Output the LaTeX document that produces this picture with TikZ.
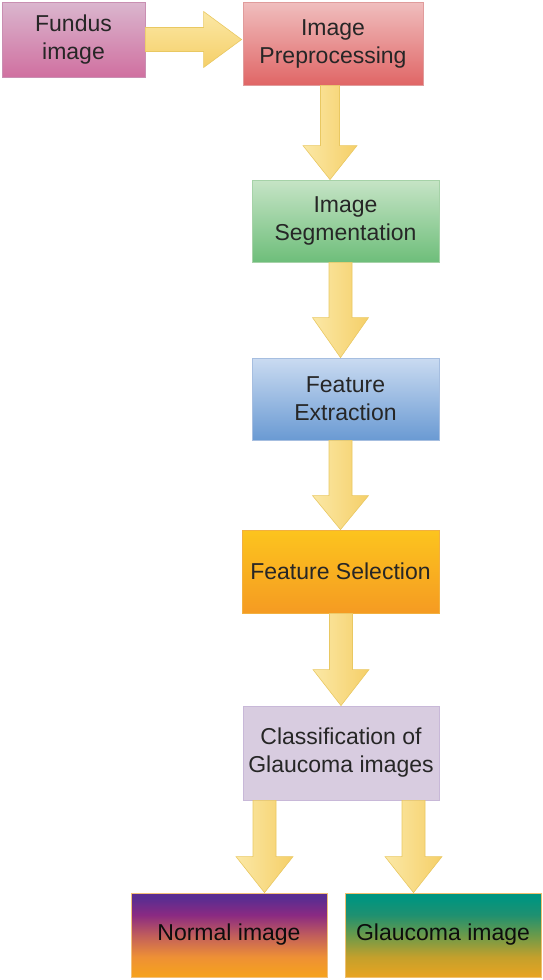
\documentclass[tikz,border=0pt]{standalone}
\usepackage{fontspec}
\setmainfont{Liberation Sans}
\usetikzlibrary{calc}
\definecolor{arrL}{HTML}{FBE8A6}
\definecolor{arrR}{HTML}{F5CF68}
\definecolor{arrB}{HTML}{E9C862}
\definecolor{nb0}{HTML}{F6A31C}
\definecolor{nb1}{HTML}{EE9035}
\definecolor{nb2}{HTML}{C05D5C}
\definecolor{nb3}{HTML}{8A2A82}
\definecolor{nb4}{HTML}{5A2D91}
\definecolor{gb0}{HTML}{E8A421}
\definecolor{gb1}{HTML}{C4A02C}
\definecolor{gb2}{HTML}{6A9A4A}
\definecolor{gb3}{HTML}{1F9070}
\definecolor{gb4}{HTML}{009580}
\definecolor{fuT}{HTML}{DAB6CE}
\definecolor{fuB}{HTML}{D070A0}
\definecolor{fuD}{HTML}{C98FB2}
\definecolor{prT}{HTML}{F0BEBE}
\definecolor{prB}{HTML}{E06666}
\definecolor{prD}{HTML}{E09C9C}
\definecolor{seT}{HTML}{C6E4C6}
\definecolor{seB}{HTML}{6EBE7A}
\definecolor{seD}{HTML}{A6D2A8}
\definecolor{exT}{HTML}{CADBF1}
\definecolor{exB}{HTML}{6A9AD3}
\definecolor{exD}{HTML}{A6BEE0}
\definecolor{slT}{HTML}{FCC41E}
\definecolor{slB}{HTML}{F59B22}
\definecolor{slD}{HTML}{F2B040}
\definecolor{clF}{HTML}{D8CCE0}
\definecolor{clD}{HTML}{C8B8D8}
\definecolor{noD}{HTML}{F2C07A}
\definecolor{glD}{HTML}{F0C070}
\pgfdeclareverticalshading{normalsh}{100bp}{color(0bp)=(nb0); color(25bp)=(nb0); color(37bp)=(nb1); color(50bp)=(nb2); color(62bp)=(nb3); color(72bp)=(nb4); color(100bp)=(nb4)}
\pgfdeclareverticalshading{glaush}{100bp}{color(0bp)=(gb0); color(25bp)=(gb0); color(37bp)=(gb1); color(50bp)=(gb2); color(62bp)=(gb3); color(72bp)=(gb4); color(100bp)=(gb4)}
\newcommand\fatdown[6]{%
  \draw[fatarrow] let \p1=#1, \p2=#2 in
  (\x1+#3pt-#4pt,\y1) -- (\x1+#3pt-#4pt,\y2+#6pt) -- (\x1+#3pt-#5pt,\y2+#6pt) --
  (\x1+#3pt,\y2) -- (\x1+#3pt+#5pt,\y2+#6pt) -- (\x1+#3pt+#4pt,\y2+#6pt) --
  (\x1+#3pt+#4pt,\y1) -- cycle;}
\begin{document}
\begin{tikzpicture}[x=1pt,y=-1pt,
  box/.style={rectangle, draw=#1, line width=0.8pt, inner sep=0pt, align=center,
    text=black!85, font=\fontsize{23}{28}\selectfont},
  fatarrow/.style={draw=arrB, line width=0.6pt, left color=arrL, right color=arrR}]
\useasboundingbox (0,0) rectangle (543,980);
\node[box=fuD, minimum width=143pt, minimum height=75pt, top color=fuT, bottom color=fuB]
  (fundus) at (73.5,39.5) {Fundus\\image};
\node[box=prD, minimum width=180pt, minimum height=83pt, top color=prT, bottom color=prB]
  (pre) at (333,43.5) {Image\\Preprocessing};
\node[box=seD, minimum width=187pt, minimum height=82pt, top color=seT, bottom color=seB]
  (seg) at (345.5,221) {Image\\Segmentation};
\node[box=exD, minimum width=187pt, minimum height=82pt, top color=exT, bottom color=exB]
  (ext) at (345.5,399) {Feature\\Extraction};
\node[box=slD, minimum width=197pt, minimum height=83pt, top color=slT, bottom color=slB]
  (sel) at (340.5,571.5) {Feature Selection};
\node[box=clD, minimum width=196pt, minimum height=94pt, fill=clF]
  (cls) at (341,753) {Classification of\\Glaucoma images};
\node[box=noD, minimum width=196pt, minimum height=84pt, shading=normalsh, text=black!95]
  (normal) at (229,935) {Normal image};
\node[box=glD, minimum width=196pt, minimum height=84pt, shading=glaush, text=black!95]
  (glau) at (443,935) {Glaucoma image};
% horizontal arrow
\draw[draw=arrB, line width=0.6pt, top color=arrL, bottom color=arrR]
  let \p1=(fundus.east), \p2=(pre.west) in
  (\x1,\y1+12pt) -- (\x2-39pt,\y1+12pt) -- (\x2-39pt,\y1+28pt) -- (\x2-1pt,\y1) --
  (\x2-39pt,\y1-28pt) -- (\x2-39pt,\y1-12pt) -- (\x1,\y1-12pt) -- cycle;
\fatdown{(pre.south)}{(seg.north)}{-3}{9.5}{27}{34}
\fatdown{(seg.south)}{(ext.north)}{-5}{11.5}{28}{40}
\fatdown{(ext.south)}{(sel.north)}{-5}{11.5}{28}{34}
\fatdown{(sel.south)}{(cls.north)}{0.5}{11.5}{28}{36}
\fatdown{(cls.south)}{(normal.north)}{-76.5}{11.5}{28.5}{36}
\fatdown{(cls.south)}{(glau.north)}{72.5}{11.5}{28.5}{36}
\end{tikzpicture}
\end{document}
